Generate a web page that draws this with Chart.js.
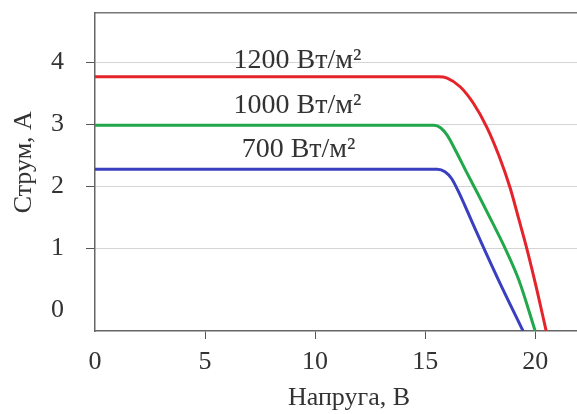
<!DOCTYPE html>
<html>
<head>
<meta charset="utf-8">
<script src="https://cdn.jsdelivr.net/npm/chart.js@4/dist/chart.umd.min.js"></script>
<style>
  html, body { margin: 0; padding: 0; background: #fff; }
  #wrap { width: 577px; height: 414px; }
</style>
</head>
<body>
<div id="wrap"><canvas id="chart" width="577" height="414"></canvas></div>
<script>
// I-V curves
const seriesNames = ['1200 Вт/м²', '1000 Вт/м²', '700 Вт/м²'];
const voltage1200 = [0, 15.6, 16.0, 16.59, 17.2, 17.8, 18.35, 18.86, 19.26, 19.62, 20.08, 20.5];
const current1200 = [3.77, 3.77, 3.75, 3.61, 3.34, 2.96, 2.50, 1.98, 1.47, 1.0, 0.33, -0.33];
const voltage1000 = [0, 15.4, 15.7, 16.0, 16.4, 16.9, 17.4, 18.1, 18.64, 19.27, 20.0];
const current1000 = [2.99, 2.99, 2.95, 2.83, 2.57, 2.22, 1.88, 1.39, 1.0, 0.48, -0.33];
const voltage700 = [0, 15.55, 15.9, 16.2, 16.5, 17.12, 17.65, 18.35, 19.45];
const current700 = [2.28, 2.28, 2.24, 2.13, 1.93, 1.44, 1.02, 0.48, -0.33];
const xTicks = [0, 5, 10, 15, 20];
const yTicks = [0, 1, 2, 3, 4];

const FONT = '"Liberation Serif", "DejaVu Serif", serif';
const TXT = '#333';
const NB = '\u00a0';

const pts = (xs, ys) => xs.map((x, i) => ({ x, y: ys[i] }));

// curve captions, anchored in data units
const captions = [
  { text: seriesNames[0], x: 9.2, y: 3.91 },
  { text: seriesNames[1], x: 9.2, y: 3.19 },
  { text: seriesNames[2], x: 9.25, y: 2.47 }
];

const captionPlugin = {
  id: 'captions',
  afterDatasetsDraw(chart){
    const { ctx, scales: { x, y } } = chart;
    ctx.save();
    ctx.font = '28px ' + FONT;
    ctx.fillStyle = TXT;
    ctx.textAlign = 'center';
    ctx.textBaseline = 'alphabetic';
    captions.forEach(c => ctx.fillText(c.text, x.getPixelForValue(c.x), y.getPixelForValue(c.y)));
    ctx.restore();
  }
};

const line = (label, data, color) => ({
  label, data,
  borderColor: color,
  backgroundColor: color,
  borderWidth: 3,
  pointRadius: 0,
  cubicInterpolationMode: 'monotone',
  fill: false
});

const noTick = (c) => c.tick && c.tick.value === 0;

new Chart(document.getElementById('chart').getContext('2d'), {
  type: 'line',
  data: {
    datasets: [
      line(seriesNames[0], pts(voltage1200, current1200), '#e5232b'),
      line(seriesNames[1], pts(voltage1000, current1000), '#22a74a'),
      line(seriesNames[2], pts(voltage700, current700), '#3a3fc0')
    ]
  },
  options: {
    responsive: false,
    animation: false,
    layout: { padding: 0 },
    plugins: { legend: { display: false }, tooltip: { enabled: false } },
    scales: {
      x: {
        type: 'linear', position: 'bottom', min: 0, max: 21.9,
        afterFit: (s) => { s.height = 83; s.paddingLeft = 0; s.paddingRight = 0; },
        afterBuildTicks: (s) => { s.ticks = xTicks.map(v => ({ value: v })); },
        ticks: { color: TXT, font: { family: FONT, size: 26 }, padding: 8, maxRotation: 0 },
        grid: {
          drawOnChartArea: false, tickLength: 8,
          tickColor: (c) => noTick(c) ? 'rgba(0,0,0,0)' : '#555'
        },
        border: { color: '#666', width: 1.5 },
        title: { display: true, text: NB.repeat(4) + 'Напруга, В', color: TXT, font: { family: FONT, size: 26 }, padding: { top: 0, bottom: 0 } }
      },
      x2: {
        type: 'linear', position: 'top', min: 0, max: 21.9,
        afterFit: (s) => { s.height = 13; s.paddingLeft = 0; s.paddingRight = 0; },
        ticks: { display: false },
        grid: { display: false, drawTicks: false },
        border: { color: '#777', width: 1.5 }
      },
      y: {
        type: 'linear', position: 'left', min: -0.33, max: 4.8,
        afterFit: (s) => { s.width = 95; s.paddingTop = 0; s.paddingBottom = 0; },
        afterBuildTicks: (s) => { s.ticks = yTicks.map(v => ({ value: v })); },
        ticks: { color: TXT, font: { family: FONT, size: 26 }, padding: 22 },
        grid: {
          tickLength: 9,
          color: (c) => noTick(c) ? 'rgba(0,0,0,0)' : '#d4d4d4',
          tickColor: (c) => noTick(c) ? 'rgba(0,0,0,0)' : '#555'
        },
        border: { color: '#666', width: 1.5 },
        title: { display: true, text: NB.repeat(3) + 'Струм, А', color: TXT, font: { family: FONT, size: 26 }, padding: { top: 9, bottom: 0 } }
      }
    }
  },
  plugins: [captionPlugin]
});
</script>
</body>
</html>
